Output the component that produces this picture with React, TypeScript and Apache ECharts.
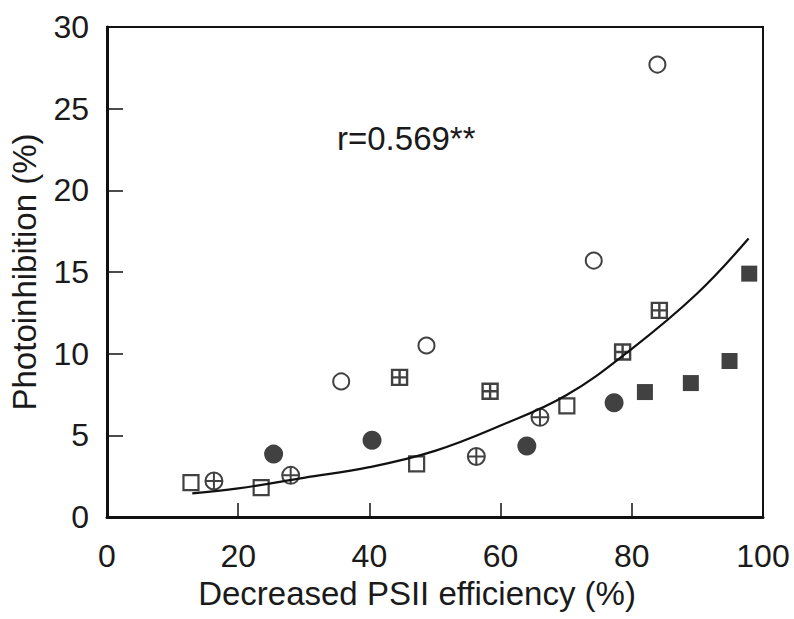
import React, { useEffect, useRef } from "react";
import * as echarts from "echarts";

// Tick values
const xTicks = [0, 20, 40, 60, 80, 100];
const yTicks = [0, 5, 10, 15, 20, 25, 30];

// Open circles
const openCircleX = [35.7, 48.7, 74.2, 83.9];
const openCircleY = [8.3, 10.5, 15.7, 27.7];
// Filled circles
const filledCircleX = [25.4, 40.4, 64.0, 77.3];
const filledCircleY = [3.85, 4.7, 4.35, 7.0];
// Open squares
const openSquareX = [12.8, 23.5, 47.2, 70.1];
const openSquareY = [2.1, 1.8, 3.25, 6.8];
// Circles with cross
const crossCircleX = [16.3, 28.0, 56.3, 66.0];
const crossCircleY = [2.2, 2.55, 3.7, 6.1];
// Squares with cross
const gridSquareX = [44.6, 58.4, 78.6, 84.2];
const gridSquareY = [8.55, 7.7, 10.1, 12.65];
// Filled squares
const filledSquareX = [82.0, 89.0, 94.9, 97.9];
const filledSquareY = [7.65, 8.2, 9.55, 14.9];
// Fitted curve
const fitX = [13, 20, 30, 40, 50, 60, 70, 80, 90, 97.8];
const fitY = [1.45, 1.75, 2.4, 3.05, 4.05, 5.6, 7.45, 10.3, 13.7, 17.05];

const annotation = "r=0.569**";
const xName = "Decreased PSII efficiency (%)";
const yName = "Photoinhibition (%)";

const zip = (xs: number[], ys: number[]) => xs.map((x, i) => [x, ys[i]]);

const INK = "#111";
const TEXT = "#1a1a1a";
const FONT = "Liberation Sans, Arial, sans-serif";
const CROSS_CIRCLE =
  "path://M10,0 A10,10 0 1,1 10,20 A10,10 0 1,1 10,0 Z M0,10 L20,10 M10,0 L10,20";
const GRID_SQUARE =
  "path://M0,0 L20,0 L20,20 L0,20 Z M10,0 L10,20 M0,10 L20,10";

export default function App() {
  const ref = useRef<HTMLDivElement>(null);
  useEffect(() => {
    if (!ref.current) return;
    const chart = echarts.init(ref.current, undefined, { renderer: "svg" });
    const hollow = { color: "rgba(255,255,255,0)", borderColor: INK, borderWidth: 2 };
    chart.setOption({
      animation: false,
      backgroundColor: "#fff",
      grid: {
        left: 106,
        right: 31,
        top: 27,
        bottom: 102,
        show: true,
        borderColor: INK,
        borderWidth: 2,
        backgroundColor: "transparent",
      },
      xAxis: {
        type: "value",
        min: xTicks[0],
        max: xTicks[xTicks.length - 1],
        interval: 20,
        name: xName,
        nameLocation: "middle",
        nameGap: 52,
        nameTextStyle: { fontFamily: FONT, fontSize: 33, color: TEXT, padding: [0, 36, 0, 0] },
        axisLine: { show: true, lineStyle: { color: INK, width: 3 } },
        axisTick: { show: true, inside: true, length: 14, lineStyle: { color: INK, width: 1.5 } },
        axisLabel: { fontFamily: FONT, fontSize: 32, color: TEXT, margin: 23 },
        splitLine: { show: false },
      },
      yAxis: {
        type: "value",
        min: yTicks[0],
        max: yTicks[yTicks.length - 1],
        interval: 5,
        name: yName,
        nameLocation: "middle",
        nameGap: 66,
        nameTextStyle: { fontFamily: FONT, fontSize: 33, color: TEXT },
        axisLine: { show: true, lineStyle: { color: INK, width: 3 } },
        axisTick: { show: true, inside: true, length: 16, lineStyle: { color: INK, width: 1.5 } },
        axisLabel: { fontFamily: FONT, fontSize: 32, color: TEXT, margin: 18 },
        splitLine: { show: false },
      },
      graphic: [
        {
          type: "text",
          left: 337,
          top: 122,
          style: { text: annotation, fontFamily: FONT, fontSize: 33, fill: TEXT },
        },
      ],
      series: [
        {
          type: "line",
          data: zip(fitX, fitY),
          smooth: 0.4,
          showSymbol: false,
          symbol: "none",
          lineStyle: { color: INK, width: 2.2 },
          z: 1,
        },
        {
          type: "scatter",
          data: zip(openCircleX, openCircleY),
          symbol: "circle",
          symbolSize: 16,
          itemStyle: hollow,
          z: 3,
        },
        {
          type: "scatter",
          data: zip(filledCircleX, filledCircleY),
          symbol: "circle",
          symbolSize: 19,
          itemStyle: { color: INK },
          z: 3,
        },
        {
          type: "scatter",
          data: zip(openSquareX, openSquareY),
          symbol: "rect",
          symbolSize: 15,
          itemStyle: { ...hollow, borderWidth: 2.2 },
          z: 3,
        },
        {
          type: "scatter",
          data: zip(crossCircleX, crossCircleY),
          symbol: CROSS_CIRCLE,
          symbolSize: 17,
          itemStyle: { ...hollow, borderWidth: 2 },
          z: 3,
        },
        {
          type: "scatter",
          data: zip(gridSquareX, gridSquareY),
          symbol: GRID_SQUARE,
          symbolSize: 15,
          itemStyle: { ...hollow, borderWidth: 2.4 },
          z: 3,
        },
        {
          type: "scatter",
          data: zip(filledSquareX, filledSquareY),
          symbol: "rect",
          symbolSize: 16,
          itemStyle: { color: INK },
          z: 3,
        },
      ],
    });
    return () => chart.dispose();
  }, []);
  return <div ref={ref} style={{ width: 794, height: 619, position: "absolute", left: 0, top: 0 }} />;
}
